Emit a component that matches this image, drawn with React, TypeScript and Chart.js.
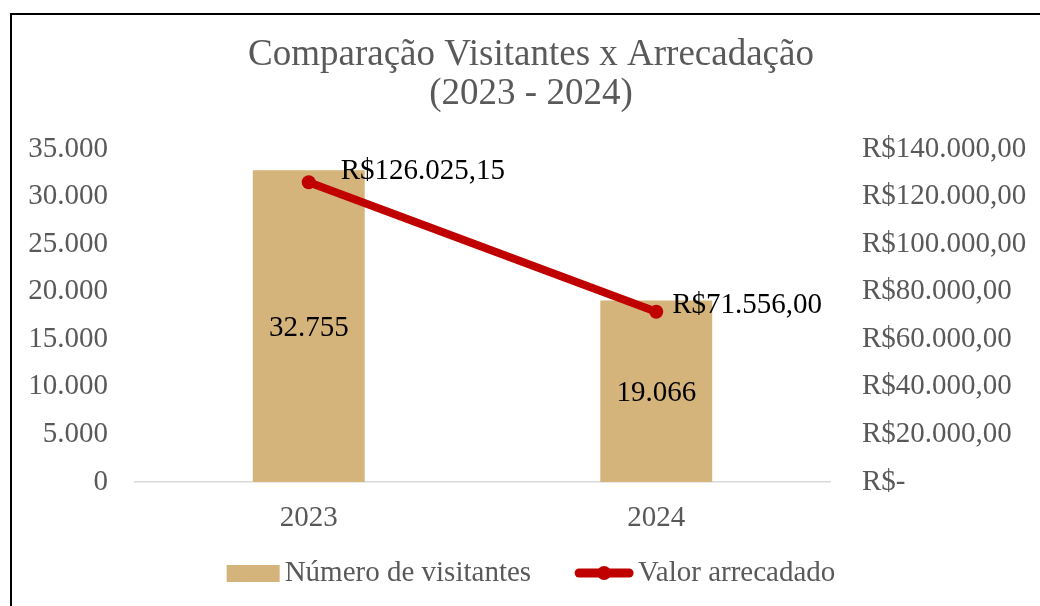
import React, { useEffect, useRef } from 'react';
import { Chart, registerables } from 'chart.js';

Chart.register(...registerables);

const FONT = '"Liberation Serif", "Times New Roman", serif';

const titleLines = ['Comparação Visitantes x Arrecadação', '(2023 - 2024)'];
const categories = ['2023', '2024'];
const visitors = [32755, 19066];
const revenue = [126025.15, 71556.0];
const visitorTickLabels = ['0', '5.000', '10.000', '15.000', '20.000', '25.000', '30.000', '35.000'];
const revenueTickLabels = [
  'R$-',
  'R$20.000,00',
  'R$40.000,00',
  'R$60.000,00',
  'R$80.000,00',
  'R$100.000,00',
  'R$120.000,00',
  'R$140.000,00',
];
const seriesNames = ['Número de visitantes', 'Valor arrecadado'];

const BAR_COLOR = '#D4B47A';
const LINE_COLOR = '#C00000';
const TEXT_GRAY = '#595959';

function fmtInt(n: number): string {
  return Math.round(n).toString().replace(/\B(?=(\d{3})+(?!\d))/g, '.');
}
function fmtBRL(n: number): string {
  if (n === 0) return 'R$-';
  const [i, d] = n.toFixed(2).split('.');
  return 'R$' + fmtInt(Number(i)) + ',' + d;
}

const lineLabelOffsets = [
  { dx: 32, dy: -11 },
  { dx: 16, dy: -6 },
];

const titlePlugin = {
  id: 'titleLines',
  afterDraw(chart: any) {
    const ctx = chart.ctx;
    ctx.save();
    ctx.font = `37px ${FONT}`;
    ctx.fillStyle = TEXT_GRAY;
    ctx.textAlign = 'center';
    ctx.textBaseline = 'alphabetic';
    titleLines.forEach((t, i) => ctx.fillText(t, chart.width / 2, 50 + i * 39));
    ctx.restore();
  },
};

const dataLabelPlugin = {
  id: 'dataLabels',
  afterDatasetsDraw(chart: any) {
    const ctx = chart.ctx;
    ctx.save();
    ctx.font = `29px ${FONT}`;
    ctx.fillStyle = '#000';
    const barMeta = chart.getDatasetMeta(0);
    barMeta.data.forEach((el: any, i: number) => {
      ctx.textAlign = 'center';
      ctx.textBaseline = 'middle';
      ctx.fillText(fmtInt(visitors[i]), el.x, (el.y + el.base) / 2 + 2);
    });
    const lineMeta = chart.getDatasetMeta(1);
    lineMeta.data.forEach((el: any, i: number) => {
      const o = lineLabelOffsets[i] || { dx: 16, dy: -8 };
      ctx.textAlign = 'left';
      ctx.textBaseline = 'middle';
      ctx.fillText(fmtBRL(revenue[i]), el.x + o.dx, el.y + o.dy);
    });
    ctx.restore();
  },
};

const legendPlugin = {
  id: 'customLegend',
  afterDraw(chart: any) {
    const ctx = chart.ctx;
    ctx.save();
    ctx.font = `29px ${FONT}`;
    const barSw = 53;
    const lineSw = 58;
    const gap = 5;
    const itemGap = 44;
    const w0 = ctx.measureText(seriesNames[0]).width;
    const w1 = ctx.measureText(seriesNames[1]).width;
    const total = barSw + gap + w0 + itemGap + lineSw + gap + w1;
    let x = chart.width / 2 - total / 2;
    const cy = 558;
    ctx.fillStyle = BAR_COLOR;
    ctx.fillRect(x, cy - 8, barSw, 17);
    x += barSw + gap;
    ctx.fillStyle = TEXT_GRAY;
    ctx.textAlign = 'left';
    ctx.textBaseline = 'alphabetic';
    ctx.fillText(seriesNames[0], x, cy + 8);
    x += w0 + itemGap;
    ctx.strokeStyle = LINE_COLOR;
    ctx.lineWidth = 9;
    ctx.lineCap = 'round';
    ctx.beginPath();
    ctx.moveTo(x + 4, cy);
    ctx.lineTo(x + lineSw - 4, cy);
    ctx.stroke();
    ctx.fillStyle = LINE_COLOR;
    ctx.beginPath();
    ctx.arc(x + lineSw / 2, cy, 7, 0, Math.PI * 2);
    ctx.fill();
    x += lineSw + gap;
    ctx.fillStyle = TEXT_GRAY;
    ctx.fillText(seriesNames[1], x, cy + 8);
    ctx.restore();
  },
};

export default function App() {
  const ref = useRef<HTMLCanvasElement>(null);
  useEffect(() => {
    if (!ref.current) return;
    Chart.defaults.font.family = FONT;
    const chart = new Chart(ref.current, {
      type: 'bar',
      data: {
        labels: categories,
        datasets: [
          {
            type: 'bar',
            label: seriesNames[0],
            data: visitors,
            backgroundColor: BAR_COLOR,
            barPercentage: 0.322,
            categoryPercentage: 1,
            yAxisID: 'y',
            order: 1,
          } as any,
          {
            type: 'line',
            label: seriesNames[1],
            data: revenue,
            borderColor: LINE_COLOR,
            backgroundColor: LINE_COLOR,
            borderWidth: 8,
            pointRadius: 7,
            pointBackgroundColor: LINE_COLOR,
            pointBorderWidth: 0,
            yAxisID: 'y1',
            order: 0,
          } as any,
        ],
      },
      options: {
        responsive: false,
        animation: false,
        layout: { padding: { top: 134, left: 0, right: 0, bottom: 0 } },
        plugins: {
          legend: { display: false },
          title: { display: false },
          tooltip: { enabled: false },
        },
        scales: {
          x: {
            grid: { display: false, drawTicks: false },
            border: { display: true, color: '#d9d9d9', width: 1.5 },
            ticks: { font: { size: 29 }, color: TEXT_GRAY, padding: 19 },
            afterFit(s: any) {
              s.height = 133;
            },
          },
          y: {
            position: 'left',
            min: 0,
            max: 35000,
            grid: { display: false, drawTicks: false },
            border: { display: false },
            ticks: {
              stepSize: 5000,
              font: { size: 29 },
              color: TEXT_GRAY,
              padding: 27,
              callback: (_v: any, i: number) => visitorTickLabels[i],
            },
            afterFit(s: any) {
              s.width = 123;
            },
          },
          y1: {
            position: 'right',
            min: 0,
            max: 140000,
            grid: { display: false, drawTicks: false },
            border: { display: false },
            ticks: {
              stepSize: 20000,
              font: { size: 29 },
              color: TEXT_GRAY,
              padding: 32,
              callback: (_v: any, i: number) => revenueTickLabels[i],
            },
            afterFit(s: any) {
              s.width = 220;
            },
          },
        },
      } as any,
      plugins: [titlePlugin, dataLabelPlugin, legendPlugin],
    });
    return () => chart.destroy();
  }, []);

  return (
    <div style={{ position: 'fixed', left: 0, top: 0, width: 1040, height: 606, overflow: 'hidden', background: '#fff' }}>
      <div
        style={{
          position: 'absolute',
          left: 10,
          top: 13,
          width: 1100,
          height: 700,
          border: '2px solid #000',
          boxSizing: 'border-box',
        }}
      />
      <canvas ref={ref} width={1038} height={600} style={{ position: 'absolute', left: 12, top: 15 }} />
    </div>
  );
}
